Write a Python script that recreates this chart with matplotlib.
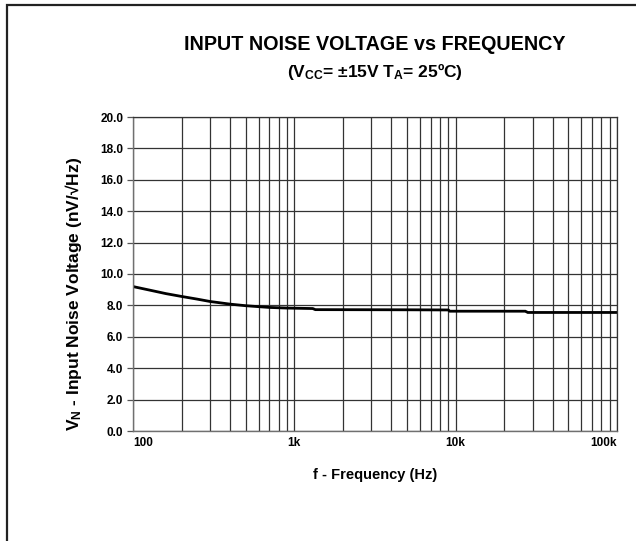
import matplotlib
matplotlib.use("Agg")
import matplotlib.pyplot as plt
from matplotlib.ticker import LogLocator, NullFormatter
from matplotlib.patches import Rectangle

plt.rcParams["font.family"] = ["Liberation Sans", "DejaVu Sans"]
plt.rcParams["mathtext.fontset"] = "custom"
plt.rcParams["mathtext.bf"] = "Liberation Sans:bold"
plt.rcParams["mathtext.rm"] = "Liberation Sans:bold"
plt.rcParams["mathtext.default"] = "bf"

# data
freq = [100, 130, 160, 200, 250, 300, 400, 500, 600, 700, 900, 1300, 1350,
        5000, 9000, 9200, 27000, 28000, 100000]
vn = [9.2, 8.95, 8.75, 8.57, 8.4, 8.25, 8.08, 7.98, 7.92, 7.87, 7.83, 7.8, 7.73,
      7.72, 7.71, 7.63, 7.63, 7.55, 7.55]

yticks = [0, 2, 4, 6, 8, 10, 12, 14, 16, 18, 20]
xticks = [100, 1000, 10000, 100000]
xlabels = ["100", "1k", "10k", "100k"]

fig = plt.figure(figsize=(6.36, 5.41), dpi=100)
ax = fig.add_axes([133/636, 1-431/541, (617-133)/636, (431-117)/541])

ax.plot(freq, vn, color="black", lw=2, solid_joinstyle="miter")

ax.set_xscale("log")
ax.set_xlim(100, 100000)
ax.set_ylim(0, 20)

ax.set_xticks(xticks)
ax.set_xticklabels(xlabels)
ax.xaxis.set_minor_locator(LogLocator(base=10, subs=range(2, 10)))
ax.xaxis.set_minor_formatter(NullFormatter())
ax.set_yticks(yticks)
ax.set_yticklabels(["%.1f" % v for v in yticks])

ax.grid(which="both", axis="x", color="#333333", lw=0.9)
ax.grid(which="major", axis="y", color="#333333", lw=0.9)
ax.set_axisbelow(True)

ax.tick_params(axis="x", which="both", length=0, pad=4, labelsize=8.5)
ax.tick_params(axis="y", length=4, width=0.9, color="#555555", pad=3, labelsize=8.5)
for lab in ax.get_xticklabels() + ax.get_yticklabels():
    lab.set_fontweight("bold")
xl = ax.get_xticklabels()
xl[0].set_horizontalalignment("left")
xl[-1].set_horizontalalignment("right")

for s in ["top", "right"]:
    ax.spines[s].set_color("#333333")
    ax.spines[s].set_linewidth(0.9)
for s in ["left", "bottom"]:
    ax.spines[s].set_color("#707070")
    ax.spines[s].set_linewidth(1.0)

ax.set_xlabel("f - Frequency (Hz)", fontsize=10.5, fontweight="bold", labelpad=14)
ax.set_ylabel("V$_{N}$ - Input Noise Voltage (nV/\u221aHz)", fontsize=12.5,
              fontweight="bold")
ax.yaxis.set_label_coords(-0.101, 0.435)

fig.text(375/636, 1-45/541, "INPUT NOISE VOLTAGE vs FREQUENCY",
         ha="center", va="center", fontsize=14.2, fontweight="bold")
fig.text(375/636, 1-72/541, "(V$_{CC}$= \u00b115V T$_{A}$= 25\u00baC)",
         ha="center", va="center", fontsize=12.5, fontweight="bold")

# outer frame (only left and top visible)
fig.patches.append(Rectangle((7/636, -0.2), 1.5, 1.2 - 5/541, transform=fig.transFigure,
                             fill=False, edgecolor="#222222", lw=1.6, clip_on=False))

fig.savefig("out.png", dpi=100)
